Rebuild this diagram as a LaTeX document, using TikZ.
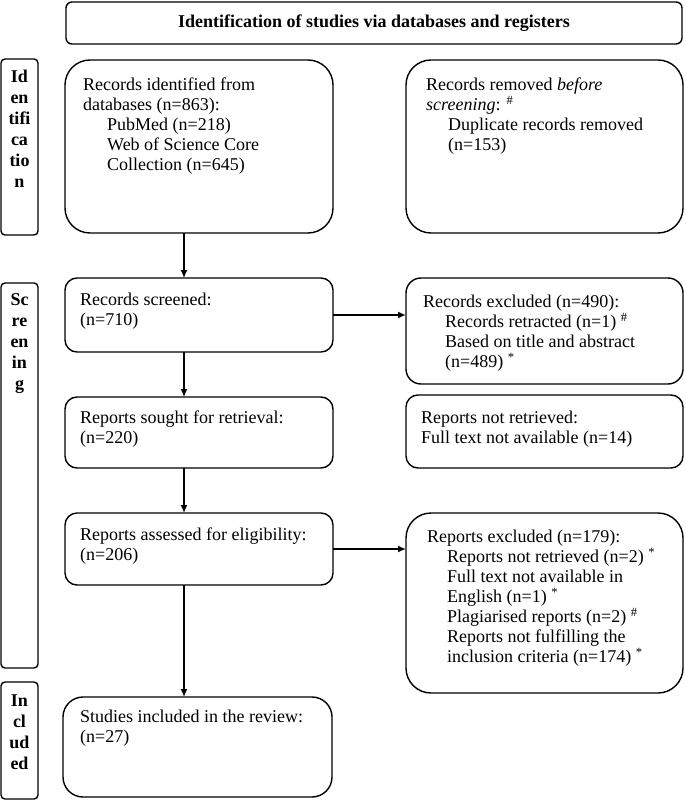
\documentclass[tikz,border=0pt]{standalone}
\usepackage{fontspec}
\setmainfont{Liberation Serif}
\usetikzlibrary{arrows.meta}
\begin{document}
\begin{tikzpicture}[x=1pt,y=-1pt,
  box/.style={draw,line width=1.4pt,rounded corners=#1,anchor=north west,outer sep=0pt,inner sep=0pt},
  txt/.style={anchor=north west,inner sep=0pt,align=left,font=\fontsize{18}{20}\selectfont},
  side/.style={anchor=north,inner sep=0pt,align=center,font=\bfseries\fontsize{18}{21}\selectfont},
  arr/.style={line width=1.4pt,-{Latex[length=8pt,width=7pt]}},
  harr/.style={line width=1.8pt,-{Latex[length=8pt,width=7pt]}}]
\useasboundingbox (0,0) rectangle (685,802);

% title
\node[box=6pt,minimum width=616pt,minimum height=42pt] (title) at (66,2) {};
\node[inner sep=0pt,font=\bfseries\fontsize{18}{20}\selectfont] (titletxt) at (title.center) {Identification of studies via databases and registers};

% side boxes
\node[box=4pt,minimum width=37pt,minimum height=176pt] (sideid) at (1,59) {};
\node[side] (sideidtxt) at (19.5,70) {Id\\en\\tifi\\ca\\tio\\n};
\node[box=4pt,minimum width=37pt,minimum height=385pt] (sidescr) at (1,283) {};
\node[side] (sidescrtxt) at (19.5,293) {Sc\\re\\en\\in\\g};
\node[box=4pt,minimum width=37pt,minimum height=117pt] (sideinc) at (1,682) {};
\node[side] (sideinctxt) at (19.5,695) {In\\cl\\ud\\ed};

% left column
\node[box=25pt,minimum width=268pt,minimum height=173pt] (ident) at (65,60) {};
\node[txt] (identtxt) at (83,78) {Records identified from\\databases (n=863):\\\hspace*{24pt}PubMed (n=218)\\\hspace*{24pt}Web of Science Core\\\hspace*{24pt}Collection (n=645)};

\node[box=12pt,minimum width=268pt,minimum height=74pt] (screened) at (65,278) {};
\node[txt] (screenedtxt) at (80,293) {Records screened:\\(n=710)};

\node[box=12pt,minimum width=268pt,minimum height=71pt] (sought) at (65,397) {};
\node[txt] (soughttxt) at (80,411) {Reports sought for retrieval:\\(n=220)};

\node[box=12pt,minimum width=268pt,minimum height=72pt] (assessed) at (65,513) {};
\node[txt] (assessedtxt) at (80,528) {Reports assessed for eligibility:\\(n=206)};

\node[box=20pt,minimum width=269pt,minimum height=100pt] (included) at (63,697) {};
\node[txt] (includedtxt) at (80,710) {Studies included in the review:\\(n=27)};

% right column
\node[box=25pt,minimum width=277pt,minimum height=173pt] (removed) at (406,60) {};
\node[txt] (removedtxt) at (426,78) {Records removed \emph{before}\\\emph{screening}: \textsuperscript{\#}\\\hspace*{22pt}Duplicate records removed\\\hspace*{22pt}(n=153)};

\node[box=15pt,minimum width=277pt,minimum height=106pt] (excluded) at (406,278) {};
\node[txt] (excludedtxt) at (423,295) {Records excluded (n=490):\\\hspace*{22pt}Records retracted (n=1) \textsuperscript{\#}\\\hspace*{22pt}Based on title and abstract\\\hspace*{22pt}(n=489) \textsuperscript{*}};

\node[box=12pt,minimum width=277pt,minimum height=73pt] (notret) at (406,395) {};
\node[txt] (notrettxt) at (421,411) {Reports not retrieved:\\Full text not available (n=14)};

\node[box=25pt,minimum width=277pt,minimum height=180pt] (repexcl) at (406,513) {};
\node[txt] (repexcltxt) at (427,530) {Reports excluded (n=179):\\\hspace*{20pt}Reports not retrieved (n=2) \textsuperscript{*}\\\hspace*{20pt}Full text not available in\\\hspace*{20pt}English (n=1) \textsuperscript{*}\\\hspace*{20pt}Plagiarised reports (n=2) \textsuperscript{\#}\\\hspace*{20pt}Reports not fulfilling the\\\hspace*{20pt}inclusion criteria (n=174) \textsuperscript{*}};

% connectors
\coordinate (ax) at (184,0);
\draw[arr] (ident.south -| ax) -- (screened.north -| ax);
\draw[arr] (screened.south -| ax) -- (sought.north -| ax);
\draw[arr] (sought.south -| ax) -- (assessed.north -| ax);
\draw[arr] (assessed.south -| ax) -- (included.north -| ax);
\draw[harr] (screened.east) -- (screened.east -| excluded.west);
\draw[harr] (assessed.east) -- (assessed.east -| repexcl.west);
\end{tikzpicture}
\end{document}
